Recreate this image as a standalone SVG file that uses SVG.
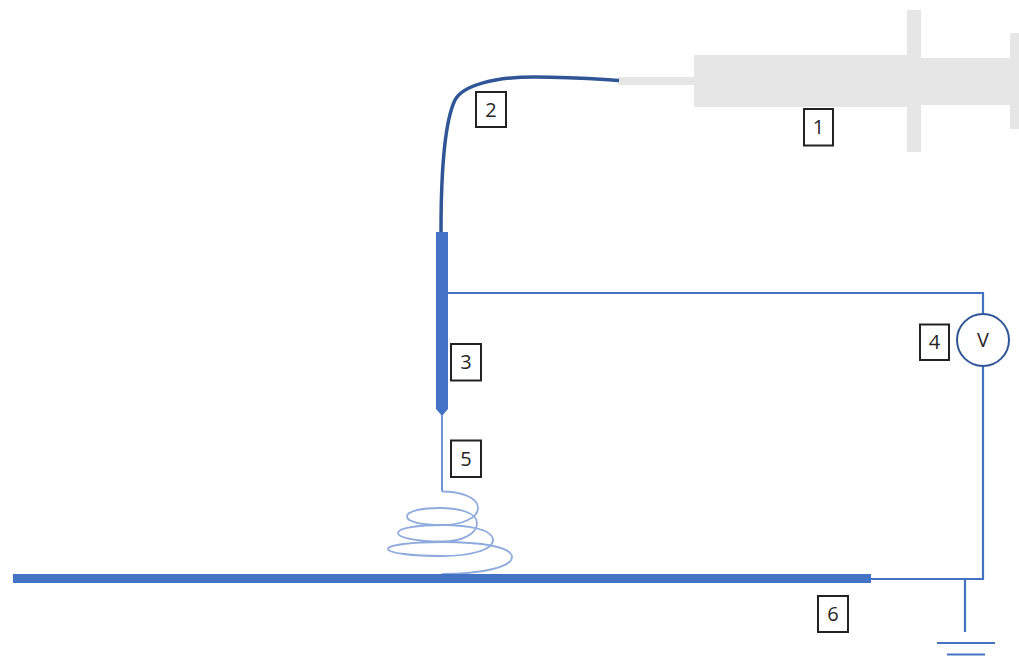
<svg xmlns="http://www.w3.org/2000/svg" width="1019" height="662" viewBox="0 0 1019 662">
<style>
.syr{fill:#e6e6e6}
.blue{fill:#4472c4}
.wire{fill:none;stroke:#4472c4;stroke-width:2.200}
.gnd{fill:none;stroke:#4472c4;stroke-width:1.800}
.thin{fill:none;stroke:#6f94d6;stroke-width:2}
.coil{fill:none;stroke:#8faadc;stroke-width:1.800}
.box{fill:#fff;stroke:#222;stroke-width:2}
.lab{font-family:"Open Sans","Liberation Sans",sans-serif;font-size:20px;fill:#262626;text-anchor:middle}
</style>
<rect width="1019" height="662" fill="#fff"/>
<g id="syringe">
<rect class="syr" x="618" y="77" width="77" height="8"/>
<rect class="syr" x="694" y="55" width="214" height="52"/>
<rect class="syr" x="907" y="10" width="14" height="142"/>
<rect class="syr" x="921" y="58" width="90" height="47"/>
<rect class="syr" x="1010" y="33" width="9" height="96"/>
</g>
<g id="connectors">
<path class="wire" d="M448 293H983V314M983 366V579H871M965 579V632"/>
<path class="gnd" d="M937 643H995M947 654.500H985"/>
</g>
<g id="tube"><path d="M441 232C441 180 443 125 455 100C463 85 495 77 535 77C570 77 595 79 619 80.500" fill="none" stroke="#2f5597" stroke-width="3.500"/></g>
<g id="nozzle"><path class="blue" d="M436 232H448V409L442 416L436 409Z"/></g>
<g id="filament">
<path class="thin" d="M442 415V491.500"/>
<path class="coil" d="M442 491.500C462 491.500 478 498 478 508C478 518 462 525 442 525C422 525 407 522 407 516.500C407 511 422 508 440 508C460 508 477 513 477 523C477 534 462 541.500 442 541.500C418 541.500 398 538 398 533C398 528 418 525 442 525C470 525 493 530 493 540C493 550 470 556 442 556C412 556 388 553 388 549C388 545 412 542 442 542C482 542 512 547 512 557C512 567 482 574 442 574"/>
</g>
<g id="plate"><rect class="blue" x="13" y="574" width="858" height="9"/></g>
<g id="voltmeter"><circle cx="983" cy="340" r="26" fill="#fff" stroke="#2f5597" stroke-width="2"/><text class="lab" x="983" y="347">V</text></g>
<g id="label-1"><rect class="box" x="804" y="109" width="29" height="36.500"/><text class="lab" x="818.500" y="134">1</text></g>
<g id="label-2"><rect class="box" x="476" y="92" width="30" height="35"/><text class="lab" x="491" y="117">2</text></g>
<g id="label-3"><rect class="box" x="451" y="344" width="30" height="36.500"/><text class="lab" x="466" y="369">3</text></g>
<g id="label-4"><rect class="box" x="920" y="324.500" width="29" height="35.500"/><text class="lab" x="934.500" y="349">4</text></g>
<g id="label-5"><rect class="box" x="451" y="440.500" width="30" height="36.500"/><text class="lab" x="466" y="466">5</text></g>
<g id="label-6"><rect class="box" x="818" y="596" width="30" height="36"/><text class="lab" x="833" y="621">6</text></g>
</svg>
